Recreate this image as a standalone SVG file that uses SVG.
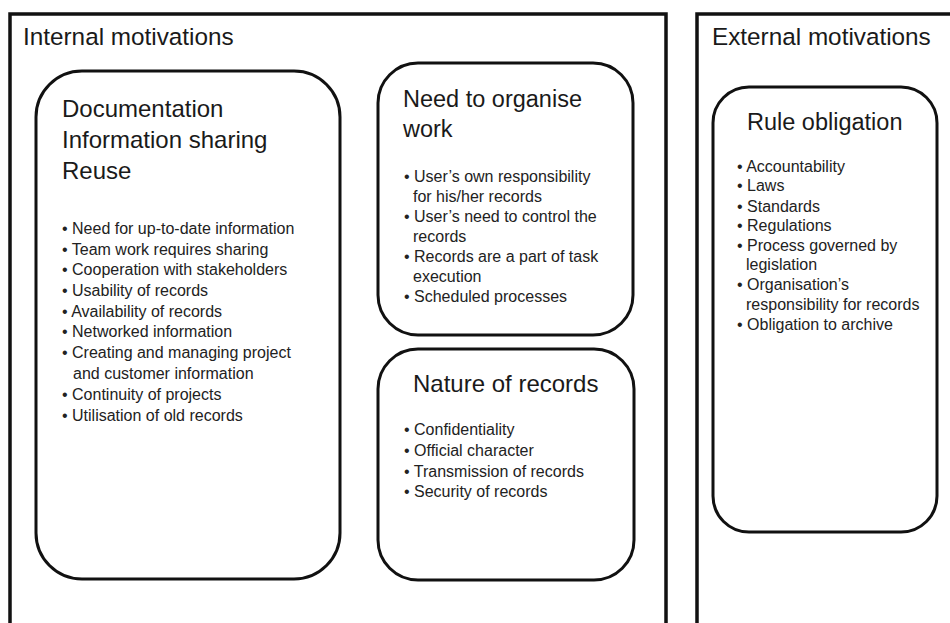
<svg xmlns="http://www.w3.org/2000/svg" width="950" height="623" viewBox="0 0 950 623">
<style>
.frame{fill:none;stroke:#111;stroke-width:3.5}
.box{fill:#fff;stroke:#111;stroke-width:3}
.h{font-family:"Liberation Sans",Arial,sans-serif;font-size:24.3px;fill:#1a1a1a}
.t{font-family:"Liberation Sans",Arial,sans-serif;font-size:23.5px;fill:#1a1a1a}
.t2{font-family:"Liberation Sans",Arial,sans-serif;font-size:24px;fill:#1a1a1a}
.b{font-family:"Liberation Sans",Arial,sans-serif;font-size:16px;fill:#222}
</style>
<rect width="950" height="623" fill="#fff"/>
<g id="internal">
<rect class="frame" x="10" y="14" width="656" height="640"/>
<text class="h" x="23" y="45">Internal motivations</text>
</g>
<g id="external">
<rect class="frame" x="697" y="14" width="280" height="640"/>
<text class="h" x="712" y="45">External motivations</text>
</g>
<g id="documentation">
<rect class="box" x="36" y="71" width="304" height="508" rx="46" ry="46"/>
<text class="t2" x="62" y="117">Documentation</text>
<text class="t2" x="62" y="148">Information sharing</text>
<text class="t2" x="62" y="179">Reuse</text>
<g class="b">
<text x="62" y="234">• Need for up-to-date information</text>
<text x="62" y="255">• Team work requires sharing</text>
<text x="62" y="275">• Cooperation with stakeholders</text>
<text x="62" y="296">• Usability of records</text>
<text x="62" y="317">• Availability of records</text>
<text x="62" y="337">• Networked information</text>
<text x="62" y="358">• Creating and managing project</text>
<text x="73" y="379">and customer information</text>
<text x="62" y="400">• Continuity of projects</text>
<text x="62" y="421">• Utilisation of old records</text>
</g>
</g>
<g id="organise">
<rect class="box" x="378" y="63" width="255" height="272" rx="40" ry="40"/>
<text class="t" x="403" y="107">Need to organise</text>
<text class="t" x="403" y="137">work</text>
<g class="b">
<text x="404" y="182">• User’s own responsibility</text>
<text x="413" y="202">for his/her records</text>
<text x="404" y="222">• User’s need to control the</text>
<text x="413" y="242">records</text>
<text x="404" y="262">• Records are a part of task</text>
<text x="413" y="282">execution</text>
<text x="404" y="302">• Scheduled processes</text>
</g>
</g>
<g id="nature">
<rect class="box" x="378" y="349" width="256" height="231" rx="40" ry="40"/>
<text class="t2" x="413" y="392">Nature of records</text>
<g class="b">
<text x="404" y="435">• Confidentiality</text>
<text x="404" y="456">• Official character</text>
<text x="404" y="477">• Transmission of records</text>
<text x="404" y="497">• Security of records</text>
</g>
</g>
<g id="rule">
<rect class="box" x="713" y="87" width="224" height="445" rx="36" ry="36"/>
<text class="t" x="747" y="130">Rule obligation</text>
<g class="b">
<text x="737" y="172">• Accountability</text>
<text x="737" y="191">• Laws</text>
<text x="737" y="212">• Standards</text>
<text x="737" y="231">• Regulations</text>
<text x="737" y="251">• Process governed by</text>
<text x="746" y="270">legislation</text>
<text x="737" y="290">• Organisation’s</text>
<text x="746" y="310">responsibility for records</text>
<text x="737" y="330">• Obligation to archive</text>
</g>
</g>
<g id="connectors"/>
</svg>
